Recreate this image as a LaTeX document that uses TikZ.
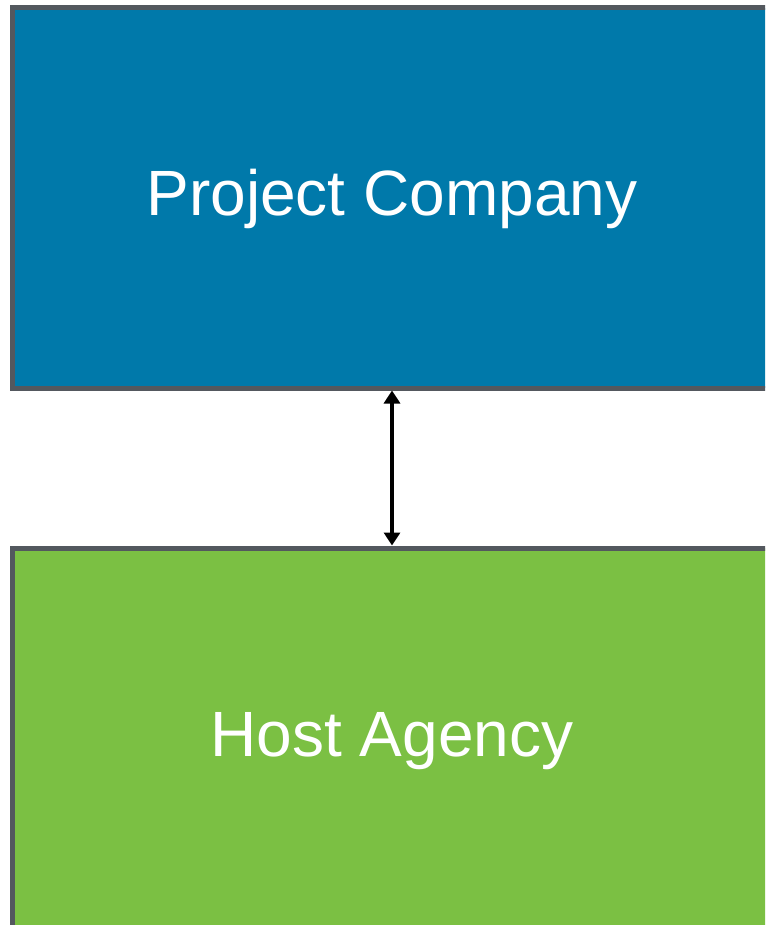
\documentclass[tikz,border=0pt]{standalone}
\usepackage{fontspec}
\setmainfont{Liberation Sans}
\usetikzlibrary{arrows.meta,positioning}
\definecolor{companyblue}{HTML}{0079AA}
\definecolor{agencygreen}{HTML}{7BC043}
\definecolor{boxborder}{HTML}{53585E}

\begin{document}
\begin{tikzpicture}[x=1pt,y=-1pt,
    partybox/.style={rectangle,draw=boxborder,line width=5pt,minimum width=760pt,minimum height=380pt,
      text=white,text height=46pt,text depth=10pt,font=\fontsize{64}{72}\selectfont},
    link/.style={line width=4pt,{Triangle[width=16pt,length=13pt]}-{Triangle[width=16pt,length=13pt]}}]
      \useasboundingbox (0,0) rectangle (765,925);
      \clip (0,0) rectangle (765,925);

      \node[partybox,fill=companyblue] (company) at (392,198) {Project Company};
      \node[partybox,fill=agencygreen,below=155pt of company] (agency) {Host Agency};

      \draw[link] (company) -- (agency);
    \end{tikzpicture}
\end{document}
